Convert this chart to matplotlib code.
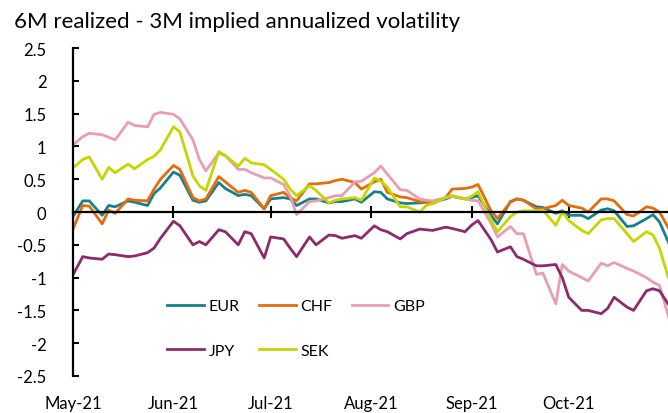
import pandas as pd
import matplotlib.pyplot as plt
import matplotlib.dates as mdates
from matplotlib.ticker import FuncFormatter, MultipleLocator

plt.rcParams['font.family'] = ['Lato', 'DejaVu Sans']

# every second business day
dates = pd.bdate_range("2021-04-30", "2021-11-05")[::2]

eur = [-0.15, 0.17, 0.17, -0.05, 0.10, 0.08, 0.17, 0.15, 0.10, 0.28, 0.37,
       0.61, 0.56, 0.18, 0.15, 0.17, 0.45, 0.36, 0.25, 0.27, 0.25, 0.05,
       0.20, 0.22, 0.20, 0.10, 0.20, 0.20, 0.14, 0.16, 0.16, 0.20, 0.15,
       0.31, 0.30, 0.20, 0.14, 0.13, 0.14, 0.15, 0.16, 0.20, 0.24, 0.20,
       0.22, 0.25, -0.05, -0.18, 0.16, 0.20, 0.18, 0.08, 0.07, -0.02, 0.02,
       -0.05, -0.05, -0.10, 0.03, 0.05, 0.02, -0.22, -0.21, -0.10, -0.04, -0.15,
       -0.60, -0.65]
chf = [-0.38, 0.10, 0.09, -0.18, 0.03, -0.02, 0.20, 0.18, 0.17, 0.35, 0.50,
       0.71, 0.65, 0.22, 0.17, 0.20, 0.54, 0.46, 0.30, 0.33, 0.30, 0.05,
       0.25, 0.30, 0.22, 0.17, 0.43, 0.43, 0.45, 0.48, 0.50, 0.45, 0.35,
       0.46, 0.50, 0.30, 0.23, 0.22, 0.16, 0.15, 0.13, 0.22, 0.35, 0.36,
       0.38, 0.42, 0.02, -0.10, 0.15, 0.20, 0.18, 0.05, 0.05, 0.10, 0.18,
       0.10, 0.06, 0.00, 0.20, 0.20, 0.17, -0.04, -0.06, 0.08, 0.06, 0.00,
       -0.35, -0.40]
gbp = [0.98, 1.15, 1.20, 1.18, 1.14, 1.10, 1.37, 1.32, 1.30, 1.49, 1.52,
       1.49, 1.42, 1.10, 0.80, 0.63, 0.90, 0.86, 0.65, 0.65, 0.60, 0.52,
       0.52, 0.42, 0.25, -0.04, 0.16, 0.17, 0.22, 0.25, 0.25, 0.46, 0.47,
       0.60, 0.70, 0.58, 0.34, 0.33, 0.20, 0.18, 0.17, 0.22, 0.24, 0.20,
       0.18, 0.17, -0.17, -0.38, -0.22, -0.33, -0.33, -0.95, -0.93, -1.40, -0.80,
       -0.90, -1.00, -1.05, -0.78, -0.82, -0.77, -0.86, -0.90, -1.00, -1.07, -1.12,
       -1.80, -1.90]
jpy = [-1.05, -0.68, -0.70, -0.72, -0.64, -0.65, -0.68, -0.67, -0.62, -0.55, -0.40,
       -0.14, -0.21, -0.50, -0.45, -0.50, -0.27, -0.30, -0.50, -0.30, -0.33, -0.70,
       -0.38, -0.41, -0.55, -0.68, -0.38, -0.50, -0.35, -0.36, -0.40, -0.36, -0.40,
       -0.21, -0.27, -0.30, -0.41, -0.33, -0.26, -0.27, -0.28, -0.23, -0.25, -0.30,
       -0.20, -0.13, -0.42, -0.61, -0.53, -0.68, -0.72, -0.82, -0.82, -0.80, -1.00,
       -1.30, -1.50, -1.50, -1.55, -1.47, -1.30, -1.45, -1.50, -1.20, -1.17, -1.20,
       -1.50, -1.55]
sek = [0.63, 0.80, 0.84, 0.50, 0.68, 0.60, 0.73, 0.66, 0.80, 0.85, 0.95,
       1.30, 1.22, 0.55, 0.40, 0.33, 0.92, 0.86, 0.70, 0.82, 0.75, 0.72,
       0.65, 0.50, 0.35, 0.25, 0.40, 0.33, 0.14, 0.18, 0.20, 0.22, 0.18,
       0.52, 0.47, 0.38, 0.08, 0.08, 0.00, 0.10, 0.13, 0.22, 0.25, 0.20,
       0.24, 0.31, -0.12, -0.30, -0.07, 0.00, 0.02, 0.02, 0.03, -0.20, 0.00,
       -0.13, -0.28, -0.33, -0.12, -0.10, -0.10, -0.33, -0.45, -0.30, -0.35, -0.55,
       -1.20, -1.30]

names = ["EUR", "CHF", "GBP", "JPY", "SEK"]
series = [eur, chf, gbp, jpy, sek]
colors = ["#17808C", "#E46C0A", "#E89DB3", "#8C2A6C", "#C5D500"]

fig = plt.figure(figsize=(6.68, 4.14), dpi=100)
# the plot runs past the right edge of the picture, as in the original crop
ax = fig.add_axes([0.1093, 0.0894, 0.9604, 0.792])

lines = {}
for name, vals, c in zip(names, series, colors):
    lines[name], = ax.plot(dates, vals, color=c, lw=2.0, label=name)

ax.set_xlim(pd.Timestamp("2021-05-01"), pd.Timestamp("2021-11-15"))
ax.set_ylim(-2.5, 2.5)
ax.yaxis.set_major_locator(MultipleLocator(0.5))
ax.yaxis.set_major_formatter(FuncFormatter(lambda v, p: f"{v:g}"))

ax.spines['top'].set_visible(False)
ax.spines['right'].set_visible(False)
ax.spines['left'].set_linewidth(1.6)
ax.spines['bottom'].set_position(('data', 0))
ax.spines['bottom'].set_linewidth(1.6)

ax.xaxis.set_major_locator(mdates.MonthLocator())
ax.tick_params(axis='x', direction='inout', length=9, width=1.5, labelbottom=False)
ax.tick_params(axis='y', direction='in', length=4, width=1.5, pad=19, labelsize=12)

# month labels sit below the plot area
sec = ax.secondary_xaxis('bottom')
sec.xaxis.set_major_locator(mdates.MonthLocator(bymonth=range(5, 11)))
sec.xaxis.set_major_formatter(mdates.DateFormatter("%b-%y"))
sec.spines['bottom'].set_visible(False)
sec.tick_params(length=0, pad=14, labelsize=12)

fig.text(0.021, 0.946, "6M realized - 3M implied annualized volatility",
         fontsize=16, va='center', ha='left')

# legend filled row by row: EUR CHF GBP / JPY SEK
order = ["EUR", "JPY", "CHF", "SEK", "GBP"]
ax.legend([lines[n] for n in order], order, ncol=3, frameon=False, fontsize=11.5,
          loc='upper left', bbox_to_anchor=(0.25, 0.275), bbox_transform=fig.transFigure,
          borderpad=0, borderaxespad=0, handlelength=2.3, handletextpad=0.3,
          columnspacing=1.2, labelspacing=1.9)

fig.savefig("out.png", dpi=100)
